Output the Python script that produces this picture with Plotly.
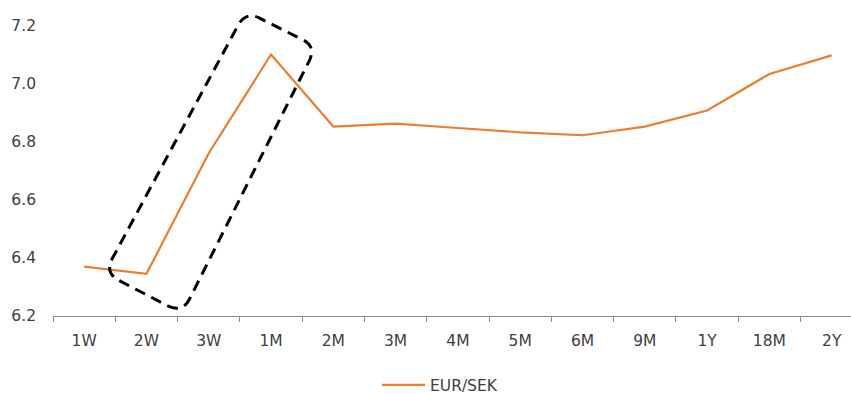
import plotly.graph_objects as go

# EUR/SEK forward curve by tenor
tenors = ["1W", "2W", "3W", "1M", "2M", "3M", "4M", "5M", "6M", "9M", "1Y", "18M", "2Y"]
eur_sek = [6.37, 6.345, 6.76, 7.10, 6.852, 6.862, 6.847, 6.832, 6.822, 6.852, 6.907, 7.033, 7.097]

y_ticks = [6.2, 6.4, 6.6, 6.8, 7.0, 7.2]
y_tick_text = ["6.2", "6.4", "6.6", "6.8", "7.0", "7.2"]

# Highlight box around the short-end spike (corners in tenor-index / rate units)
box_corners = [(0.327, 6.348), (1.576, 6.209), (3.728, 7.127), (2.593, 7.249)]
# fraction of each edge used for the rounded corners (short, long, short, long)
edge_round = [0.19, 0.055, 0.19, 0.055]


def rounded_path(pts, fracs):
    n = len(pts)

    def lerp(p, q, t):
        return (p[0] + (q[0] - p[0]) * t, p[1] + (q[1] - p[1]) * t)

    segs = []
    for i in range(n):
        p, q = pts[i], pts[(i + 1) % n]
        f = fracs[i]
        segs.append((lerp(p, q, f), lerp(p, q, 1 - f)))
    d = "M {:.4f},{:.4f}".format(*segs[0][0])
    for i in range(n):
        start, end = segs[i]
        corner = pts[(i + 1) % n]
        nxt = segs[(i + 1) % n][0]
        d += " L {:.4f},{:.4f}".format(*end)
        d += " Q {:.4f},{:.4f} {:.4f},{:.4f}".format(corner[0], corner[1], nxt[0], nxt[1])
    return d + " Z"


font_family = "DejaVu Sans, Verdana, sans-serif"
text_color = "#404040"
font_size = 15.5

fig = go.Figure()
fig.add_trace(go.Scatter(
    x=tenors, y=eur_sek, mode="lines", name="EUR/SEK",
    line=dict(color="#ED7D31", width=2.2),
))

fig.add_shape(
    type="path", xref="x", yref="y",
    path=rounded_path(box_corners, edge_round),
    line=dict(color="black", width=3, dash="11px,7px"),
    fillcolor="rgba(0,0,0,0)",
)

fig.update_layout(
    width=851, height=394,
    margin=dict(l=53, r=0, t=7.5, b=78),
    paper_bgcolor="white", plot_bgcolor="white",
    font=dict(family=font_family, size=font_size, color=text_color),
    showlegend=True,
    legend=dict(
        orientation="h", xref="paper", x=0.406, xanchor="left",
        yref="container", y=0.022, yanchor="middle",
        itemwidth=43,
        font=dict(size=font_size, color=text_color), bgcolor="rgba(0,0,0,0)",
    ),
    xaxis=dict(
        type="category", categoryorder="array", categoryarray=tenors,
        range=[-0.5, 12.31],
        showline=True, linecolor="#8c8c8c", linewidth=1,
        ticks="outside", tickson="boundaries", ticklen=5, tickcolor="#8c8c8c",
        showgrid=False, zeroline=False,
        ticklabelstandoff=10,
        tickfont=dict(size=font_size, color=text_color),
        fixedrange=True,
    ),
    yaxis=dict(
        range=[6.2, 7.26],
        tickvals=y_ticks, ticktext=y_tick_text,
        showgrid=False, zeroline=False, showline=False, ticks="",
        ticklabelstandoff=16,
        tickfont=dict(size=font_size, color=text_color),
        fixedrange=True,
    ),
)

fig.write_html("out.html")
